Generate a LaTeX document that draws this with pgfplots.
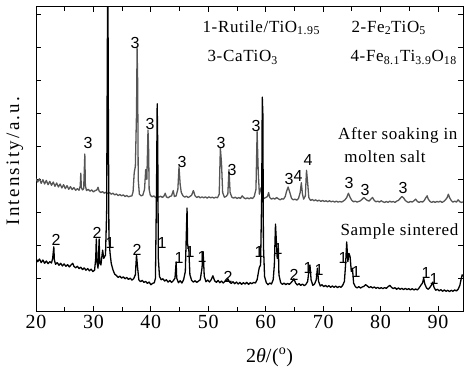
\documentclass[border=0pt]{standalone}
\usepackage{pgfplots}
\usepackage{pgfplotstable}
\pgfplotsset{compat=1.18}
\usepackage{fontspec}
\setmainfont{Liberation Serif}
\newfontfamily\txt[LetterSpace=4]{Liberation Serif}
\newfontfamily\ytxt[LetterSpace=12]{Liberation Serif}
\newfontfamily\pk{Liberation Sans}
\definecolor{soakgray}{RGB}{85,85,85}

\pgfplotstableread{
x y
20.0 4.02
20.3 3.92
20.6 4.02
20.9 3.88
21.2 3.99
21.5 3.86
21.8 3.97
22.1 3.84
22.4 3.94
22.7 3.82
23.0 3.92
23.3 3.79
23.6 3.89
23.9 3.77
24.2 3.86
24.5 3.74
24.8 3.84
25.1 3.72
25.4 3.81
25.7 3.70
26.0 3.78
26.3 3.69
26.6 3.75
26.9 3.67
27.2 3.72
27.5 3.67
27.7 3.80
27.8 4.19
27.9 3.75
28.1 3.68
28.3 3.72
28.5 4.77
28.6 3.80
28.8 3.66
29.1 3.70
29.4 3.64
29.7 3.68
30.0 3.62
30.3 3.66
30.6 3.68
30.8 3.76
31.0 3.64
31.3 3.60
31.6 3.63
31.9 3.58
32.2 3.61
32.5 3.57
32.8 3.60
33.1 3.55
33.4 3.58
33.7 3.53
34.0 3.56
34.3 3.51
34.6 3.54
34.9 3.50
35.2 3.53
35.5 3.48
35.8 3.51
36.1 3.47
36.4 3.49
36.7 3.50
36.9 3.62
37.1 4.20
37.3 4.40
37.5 6.00
37.6 8.00
37.7 7.00
37.8 4.00
38.0 3.55
38.3 3.50
38.6 3.52
38.9 3.70
39.1 4.30
39.3 4.00
39.5 5.50
39.6 5.00
39.7 3.70
39.9 3.52
40.2 3.47
40.5 3.50
40.8 3.45
41.1 3.48
41.4 3.46
41.7 3.49
42.0 3.45
42.3 3.50
42.5 3.58
42.7 3.47
43.0 3.44
43.3 3.48
43.6 3.50
43.9 3.66
44.1 3.48
44.4 3.50
44.7 3.70
44.9 4.38
45.1 3.85
45.3 3.60
45.6 3.50
45.9 3.46
46.2 3.49
46.5 3.45
46.8 3.48
47.1 3.52
47.4 3.66
47.7 3.50
48.0 3.45
48.3 3.48
48.6 3.44
48.9 3.47
49.2 3.44
49.5 3.47
49.8 3.43
50.1 3.47
50.4 3.44
50.7 3.46
51.0 3.43
51.3 3.46
51.6 3.44
51.9 3.55
52.1 4.95
52.3 4.50
52.5 3.60
52.8 3.46
53.1 3.48
53.4 3.55
53.6 4.30
53.8 3.60
54.1 3.46
54.4 3.43
54.7 3.46
55.0 3.42
55.3 3.45
55.6 3.42
55.9 3.50
56.2 3.44
56.5 3.41
56.8 3.44
57.1 3.41
57.4 3.44
57.7 3.42
58.0 3.48
58.3 3.70
58.5 5.45
58.7 4.20
58.9 3.55
59.2 3.75
59.4 3.50
59.7 3.42
60.0 3.45
60.3 3.48
60.5 3.60
60.7 3.45
61.0 3.40
61.3 3.43
61.6 3.40
61.9 3.45
62.2 3.41
62.5 3.38
62.8 3.41
63.1 3.40
63.4 3.48
63.6 3.62
63.9 3.77
64.2 3.60
64.5 3.42
64.8 3.38
65.1 3.40
65.4 3.37
65.7 3.42
66.0 3.60
66.2 3.90
66.4 3.55
66.6 3.40
66.9 3.50
67.1 4.28
67.3 3.90
67.5 3.45
67.8 3.36
68.1 3.39
68.4 3.35
68.7 3.38
69.0 3.34
69.3 3.37
69.6 3.33
69.9 3.36
70.2 3.33
70.5 3.35
70.8 3.32
71.1 3.35
71.4 3.32
71.7 3.34
72.0 3.31
72.3 3.34
72.6 3.31
72.9 3.33
73.2 3.31
73.5 3.34
73.8 3.38
74.1 3.45
74.4 3.58
74.7 3.45
75.0 3.36
75.3 3.32
75.6 3.34
75.9 3.31
76.2 3.33
76.5 3.35
76.8 3.40
77.1 3.45
77.4 3.40
77.7 3.36
78.0 3.34
78.3 3.40
78.6 3.45
78.9 3.36
79.2 3.32
79.5 3.34
79.8 3.31
80.1 3.35
80.4 3.32
80.7 3.30
81.0 3.33
81.3 3.30
81.6 3.34
81.9 3.31
82.2 3.33
82.5 3.30
82.8 3.34
83.1 3.36
83.4 3.42
83.7 3.48
84.0 3.44
84.3 3.36
84.6 3.32
84.9 3.30
85.2 3.33
85.5 3.31
85.8 3.35
86.1 3.40
86.4 3.33
86.7 3.30
87.0 3.33
87.3 3.31
87.6 3.36
87.9 3.45
88.1 3.50
88.3 3.40
88.6 3.33
88.9 3.30
89.2 3.33
89.5 3.30
89.8 3.33
90.1 3.31
90.4 3.34
90.7 3.30
91.0 3.33
91.3 3.38
91.6 3.45
91.8 3.55
92.0 3.45
92.3 3.36
92.6 3.31
92.9 3.34
93.2 3.31
93.5 3.38
93.8 3.32
94.1 3.30
94.3 3.32
}\soak

\pgfplotstableread{
x y
20.0 1.60
20.3 1.50
20.6 1.58
20.9 1.47
21.2 1.55
21.5 1.45
21.8 1.52
22.1 1.44
22.4 1.50
22.7 1.46
22.9 1.60
23.1 1.95
23.2 1.55
23.4 1.42
23.7 1.47
24.0 1.39
24.3 1.45
24.6 1.37
24.9 1.43
25.2 1.36
25.5 1.41
25.8 1.34
26.1 1.40
26.4 1.45
26.6 1.36
26.9 1.31
27.2 1.36
27.5 1.29
27.8 1.33
28.1 1.26
28.4 1.31
28.7 1.24
29.0 1.29
29.3 1.22
29.6 1.27
29.9 1.20
30.2 1.24
30.4 1.60
30.5 2.19
30.6 1.50
30.8 1.30
31.0 2.19
31.1 1.45
31.3 1.40
31.6 1.85
31.8 1.60
32.1 1.70
32.3 3.00
32.5 11.00
32.6 6.00
32.7 2.20
32.9 1.75
33.1 1.45
33.4 1.25
33.7 1.12
34.0 1.08
34.3 1.02
34.6 1.06
34.9 1.00
35.2 1.04
35.5 0.98
35.8 1.02
36.1 0.96
36.4 1.00
36.7 0.94
37.0 0.98
37.3 1.10
37.5 1.70
37.7 1.30
37.9 0.95
38.2 0.89
38.5 0.93
38.8 0.87
39.1 0.90
39.4 0.84
39.7 0.88
40.0 0.80
40.3 0.84
40.6 0.86
40.8 1.00
41.0 4.00
41.1 6.30
41.2 5.00
41.3 1.60
41.5 1.05
41.8 0.95
42.1 0.98
42.4 0.91
42.7 0.95
43.0 0.88
43.3 0.93
43.6 0.87
43.9 0.92
44.2 1.00
44.4 1.49
44.5 1.00
44.8 0.86
45.1 0.92
45.4 0.85
45.7 0.95
46.0 1.20
46.2 2.50
46.3 3.13
46.4 2.00
46.6 1.90
46.8 1.10
47.1 0.93
47.4 0.88
47.7 0.92
48.0 0.87
48.3 0.91
48.6 0.95
48.9 1.30
49.1 1.80
49.3 1.05
49.6 0.89
49.9 0.94
50.2 0.88
50.5 0.95
50.8 1.07
51.1 0.92
51.4 0.87
51.7 0.93
52.0 0.86
52.3 0.91
52.6 0.85
52.9 0.90
53.2 0.92
53.4 0.98
53.7 0.88
54.0 0.84
54.3 0.89
54.6 0.83
54.9 0.88
55.2 0.82
55.5 0.87
55.8 0.81
56.1 0.86
56.4 0.82
56.7 0.87
57.0 0.81
57.3 0.86
57.6 0.83
57.9 0.87
58.2 0.85
58.5 0.95
58.8 1.25
58.9 1.33
59.1 1.40
59.3 3.50
59.4 6.50
59.5 6.00
59.6 2.00
59.8 1.05
60.1 0.86
60.4 0.80
60.7 0.85
61.0 0.82
61.3 0.95
61.5 1.40
61.7 2.64
61.8 2.30
62.0 1.60
62.2 1.90
62.3 1.10
62.6 0.86
62.9 0.81
63.2 0.85
63.5 0.80
63.8 0.84
64.1 0.81
64.4 0.86
64.7 0.92
64.9 0.98
65.2 0.85
65.5 0.79
65.8 0.83
66.1 0.78
66.4 0.82
66.7 0.77
67.0 0.81
67.3 0.90
67.5 1.20
67.7 1.40
67.9 0.95
68.2 0.78
68.5 0.82
68.8 0.95
69.0 1.30
69.2 0.90
69.5 0.76
69.8 0.80
70.1 0.74
70.4 0.78
70.7 0.73
71.0 0.77
71.3 0.72
71.6 0.76
71.9 0.72
72.2 0.76
72.5 0.71
72.8 0.75
73.1 0.72
73.4 0.78
73.7 0.90
73.9 1.40
74.1 2.10
74.3 1.50
74.5 1.75
74.7 1.64
74.9 1.20
75.1 1.30
75.3 0.85
75.6 0.74
75.9 0.70
76.2 0.74
76.5 0.70
76.8 0.73
77.1 0.75
77.4 0.80
77.7 0.76
78.0 0.71
78.3 0.74
78.6 0.70
78.9 0.73
79.2 0.69
79.5 0.72
79.8 0.68
80.1 0.71
80.4 0.68
80.7 0.71
81.0 0.69
81.3 0.74
81.6 0.78
81.9 0.72
82.2 0.68
82.5 0.71
82.8 0.66
83.1 0.70
83.4 0.66
83.7 0.69
84.0 0.65
84.3 0.69
84.6 0.65
84.9 0.68
85.2 0.64
85.5 0.68
85.8 0.64
86.1 0.67
86.4 0.64
86.7 0.70
87.0 0.78
87.3 0.85
87.5 1.00
87.7 0.82
88.0 0.70
88.3 0.66
88.6 0.72
88.9 0.80
89.1 0.88
89.3 0.72
89.6 0.63
89.9 0.66
90.2 0.61
90.5 0.65
90.8 0.60
91.1 0.64
91.4 0.60
91.7 0.63
92.0 0.59
92.3 0.63
92.6 0.60
92.9 0.64
93.2 0.61
93.5 0.66
93.8 0.78
94.0 0.95
94.2 1.10
94.3 1.05
}\sinter

\begin{document}
\begin{tikzpicture}
\useasboundingbox (-36pt,-57pt) rectangle (429pt,311pt);
\begin{axis}[
  at={(0pt,0pt)}, anchor=south west,
  scale only axis, width=427pt, height=304pt,
  xmin=20, xmax=94.35, ymin=0, ymax=9.24,
  xtick={20,30,...,90},
  minor x tick num=1,
  ytick={0,1,...,9}, yticklabels={},
  tick align=inside,
  major tick length=5pt, minor tick length=4pt,
  axis line style={line width=1pt},
  every tick/.style={line width=0.9pt, black},
  /pgf/number format/assume math mode=true,
  xticklabel style={font=\txt\fontsize{20}{20}\selectfont, inner sep=0pt, yshift=-4pt},
  clip=true,
]
\addplot[soakgray, line width=1.3pt, line join=round] table[x=x,y=y] {\soak};
\addplot[black, line width=1.3pt, line join=round] table[x=x,y=y] {\sinter};

% legend-like text
\node[anchor=base west, font=\txt\fontsize{17}{17}\selectfont] at (axis cs:48.38,8.48) {1-Rutile/TiO\textsubscript{1.95}};
\node[anchor=base west, font=\txt\fontsize{17}{17}\selectfont] at (axis cs:74.33,8.48) {2-Fe\textsubscript{2}TiO\textsubscript{5}};
\node[anchor=base west, font=\txt\fontsize{17}{17}\selectfont] at (axis cs:49.25,7.58) {3-CaTiO\textsubscript{3}};
\node[anchor=base west, font=\txt\fontsize{17}{17}\selectfont] at (axis cs:74.16,7.58) {4-Fe\textsubscript{8.1}Ti\textsubscript{3.9}O\textsubscript{18}};
\node[anchor=base west, font=\txt\fontsize{17}{17}\selectfont] at (axis cs:72.0,5.20) {After soaking in};
\node[anchor=base west, font=\txt\fontsize{17}{17}\selectfont] at (axis cs:73.1,4.50) {molten salt};
\node[anchor=base west, font=\txt\fontsize{17}{17}\selectfont] at (axis cs:72.41,2.31) {Sample sintered};

% peak labels
\begin{scope}[every node/.style={font=\pk\fontsize{16}{16}\selectfont, inner sep=0pt}]
\node at (axis cs:37.24,8.15) {3};
\node at (axis cs:39.85,5.68) {3};
\node at (axis cs:29.05,5.11) {3};
\node at (axis cs:45.42,4.53) {3};
\node at (axis cs:52.21,5.11) {3};
\node at (axis cs:54.13,4.29) {3};
\node at (axis cs:58.31,5.62) {3};
\node at (axis cs:64.05,4.01) {3};
\node at (axis cs:65.62,4.10) {4};
\node at (axis cs:67.36,4.59) {4};
\node at (axis cs:74.50,3.89) {3};
\node at (axis cs:77.29,3.68) {3};
\node at (axis cs:83.90,3.74) {3};
\node at (axis cs:23.48,2.16) {2};
\node at (axis cs:30.62,2.37) {2};
\node at (axis cs:32.89,2.07) {1};
\node at (axis cs:37.59,1.85) {2};
\node at (axis cs:41.94,2.07) {1};
\node at (axis cs:44.90,1.61) {1};
\node at (axis cs:46.82,1.79) {1};
\node at (axis cs:48.90,1.64) {1};
\node at (axis cs:53.43,1.03) {2};
\node at (axis cs:58.83,1.79) {1};
\node at (axis cs:62.14,1.88) {1};
\node at (axis cs:64.92,1.09) {2};
\node at (axis cs:67.36,1.31) {1};
\node at (axis cs:69.28,1.25) {1};
\node at (axis cs:73.46,1.61) {1};
\node at (axis cs:75.72,1.19) {1};
\node at (axis cs:87.91,1.16) {1};
\node at (axis cs:89.30,0.97) {1};
\end{scope}
\end{axis}
\node[anchor=base, font=\txt\fontsize{20}{20}\selectfont] at (233.5pt,-51pt) {2{\itshape θ}/(\textsuperscript{o})};
\node[rotate=90, font=\ytxt\fontsize{19}{19}\selectfont] at (-21pt,150pt) {Intensity/a.u.};
\end{tikzpicture}
\end{document}
